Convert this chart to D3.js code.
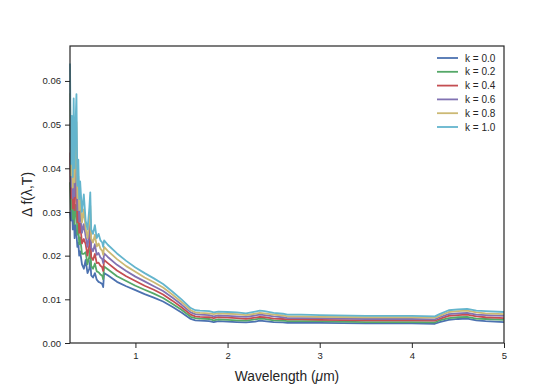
<!DOCTYPE html>
<html>
<head>
<meta charset="utf-8">
<script src="https://cdn.jsdelivr.net/npm/d3@7/dist/d3.min.js"></script>
<style>
  body { margin: 0; background: #fff; }
  text { font-family: "Liberation Sans", Arial, sans-serif; fill: #262626; }
</style>
</head>
<body>
<svg id="chart" width="560" height="385"></svg>
<script>
// wavelength grid (um)
const wavelength = [0.29, 0.30, 0.31, 0.32, 0.33, 0.34, 0.35, 0.36, 0.37, 0.38, 0.39, 0.40,
  0.42, 0.44, 0.46, 0.48, 0.50, 0.51, 0.52, 0.54, 0.56, 0.58, 0.60, 0.62, 0.64, 0.65, 0.66,
  0.70, 0.80, 0.90, 1.0, 1.1, 1.2, 1.3, 1.4, 1.5, 1.6, 1.65, 1.7, 1.8, 1.85, 1.9, 2.0, 2.1,
  2.2, 2.3, 2.35, 2.4, 2.5, 2.6, 2.65, 2.8, 3.0, 3.5, 4.0, 4.25, 4.3, 4.4, 4.5, 4.6, 4.7, 4.8, 5.0];

const k00 = [0.030, 0.028, 0.033, 0.026, 0.031, 0.024, 0.027, 0.025, 0.022, 0.023, 0.020, 0.021,
  0.018, 0.017, 0.019, 0.016, 0.017, 0.019, 0.0155, 0.015, 0.016, 0.0145, 0.014, 0.0138, 0.0135, 0.0128, 0.016,
  0.0155, 0.014, 0.013, 0.0121, 0.0112, 0.0104, 0.0095, 0.0083, 0.0070, 0.0055, 0.0052, 0.0051, 0.0050, 0.0048, 0.0050, 0.0049, 0.0048,
  0.0047, 0.0049, 0.0051, 0.0050, 0.0048, 0.0047, 0.0046, 0.0046, 0.0046, 0.0045, 0.0045, 0.0044, 0.0048, 0.0053, 0.0055, 0.0056, 0.0052, 0.0050, 0.0048];
const k02 = [0.0368, 0.0306, 0.0368, 0.0284, 0.036, 0.0272, 0.0316, 0.0314, 0.0248, 0.0268, 0.0226, 0.0242,
  0.0204, 0.0204, 0.0208, 0.018, 0.0198, 0.0221, 0.0176, 0.017, 0.0182, 0.0164, 0.0162, 0.0157, 0.0154, 0.0146, 0.0175,
  0.0169, 0.0153, 0.0142, 0.0131, 0.0122, 0.0113, 0.0103, 0.0090, 0.0076, 0.0060, 0.0057, 0.0056, 0.0055, 0.0052, 0.0054, 0.0053, 0.0052,
  0.0051, 0.0054, 0.0056, 0.0055, 0.0052, 0.0051, 0.0050, 0.0050, 0.0050, 0.0048, 0.0048, 0.0047, 0.0052, 0.0057, 0.0059, 0.0060, 0.0056, 0.0055, 0.0053];
const k04 = [0.0436, 0.0332, 0.0406, 0.0308, 0.041, 0.0304, 0.0362, 0.0378, 0.0276, 0.0306, 0.0252, 0.0274,
  0.0228, 0.0238, 0.0226, 0.020, 0.0226, 0.0252, 0.0197, 0.019, 0.0204, 0.0183, 0.0184, 0.0177, 0.0173, 0.0165, 0.019,
  0.0183, 0.0166, 0.0153, 0.0142, 0.0131, 0.0122, 0.0111, 0.0097, 0.0082, 0.0065, 0.0061, 0.0060, 0.0059, 0.0057, 0.0059, 0.0058, 0.0057,
  0.0055, 0.0058, 0.0060, 0.0059, 0.0056, 0.0055, 0.0054, 0.0054, 0.0053, 0.0052, 0.0052, 0.0051, 0.0055, 0.0062, 0.0064, 0.0065, 0.0061, 0.0059, 0.0057];
const k06 = [0.0504, 0.0358, 0.0444, 0.0332, 0.046, 0.0336, 0.0408, 0.0442, 0.0304, 0.0344, 0.0278, 0.0306,
  0.0252, 0.0272, 0.0244, 0.022, 0.0254, 0.0283, 0.0218, 0.021, 0.0226, 0.0202, 0.0206, 0.0196, 0.0192, 0.0183, 0.0205,
  0.0197, 0.0179, 0.0165, 0.0152, 0.0141, 0.0130, 0.0119, 0.0104, 0.0088, 0.0070, 0.0066, 0.0065, 0.0064, 0.0061, 0.0063, 0.0062, 0.0061,
  0.0060, 0.0063, 0.0065, 0.0064, 0.0061, 0.0059, 0.0057, 0.0057, 0.0057, 0.0055, 0.0055, 0.0054, 0.0059, 0.0066, 0.0068, 0.0069, 0.0065, 0.0064, 0.0062];
const k08 = [0.0572, 0.0384, 0.0482, 0.0356, 0.051, 0.0368, 0.0454, 0.0506, 0.0332, 0.0382, 0.0304, 0.0338,
  0.0276, 0.0306, 0.0262, 0.024, 0.0282, 0.0314, 0.0239, 0.023, 0.0248, 0.0221, 0.0228, 0.0216, 0.0211, 0.0202, 0.022,
  0.0211, 0.0192, 0.0176, 0.0163, 0.0150, 0.0139, 0.0127, 0.0111, 0.0094, 0.0075, 0.0070, 0.0069, 0.0068, 0.0066, 0.0068, 0.0067, 0.0066,
  0.0064, 0.0067, 0.0069, 0.0068, 0.0065, 0.0063, 0.0061, 0.0061, 0.0060, 0.0059, 0.0059, 0.0058, 0.0062, 0.0071, 0.0073, 0.0074, 0.0070, 0.0068, 0.0066];
const k10 = [0.064, 0.041, 0.052, 0.038, 0.056, 0.040, 0.050, 0.057, 0.036, 0.042, 0.033, 0.037,
  0.030, 0.034, 0.028, 0.026, 0.031, 0.0345, 0.026, 0.025, 0.027, 0.024, 0.025, 0.0235, 0.023, 0.022, 0.0235,
  0.0225, 0.0205, 0.0188, 0.0173, 0.0160, 0.0148, 0.0135, 0.0118, 0.0100, 0.0080, 0.0075, 0.0074, 0.0073, 0.0070, 0.0072, 0.0071, 0.0070,
  0.0068, 0.0072, 0.0074, 0.0073, 0.0069, 0.0067, 0.0065, 0.0065, 0.0064, 0.0062, 0.0062, 0.0061, 0.0066, 0.0075, 0.0077, 0.0078, 0.0074, 0.0073, 0.0071];

const seriesNames = ["k = 0.0", "k = 0.2", "k = 0.4", "k = 0.6", "k = 0.8", "k = 1.0"];
const seriesValues = [k00, k02, k04, k06, k08, k10];
const colors = ["#4C72B0", "#55A868", "#C44E52", "#8172B2", "#CCB974", "#64B5CD"];
const xTicks = [1, 2, 3, 4, 5];
const yTicks = [0, 0.01, 0.02, 0.03, 0.04, 0.05, 0.06];

const svg = d3.select("#chart");
const mLeft = 70, mRight = 504, mTop = 46, mBottom = 343;

const x = d3.scaleLinear().domain([0.29, 5]).range([mLeft, mRight]);
const y = d3.scaleLinear().domain([0, 0.068]).range([mBottom, mTop]);

const line = d3.line()
  .x(d => x(d[0]))
  .y(d => y(d[1]));

// curves
seriesValues.forEach((vals, i) => {
  svg.append("path")
    .attr("d", line(wavelength.map((w, j) => [w, vals[j]])))
    .attr("fill", "none")
    .attr("stroke", colors[i])
    .attr("stroke-width", 1.8)
    .attr("stroke-linejoin", "round");
});

// axes
const xAxis = d3.axisBottom(x).tickValues(xTicks).tickFormat(d3.format("d")).tickSize(5).tickPadding(4);
const yAxis = d3.axisLeft(y).tickValues(yTicks).tickFormat(d3.format(".2f")).tickSize(5).tickPadding(4);

const gx = svg.append("g").attr("transform", `translate(0,${mBottom})`).call(xAxis);
const gy = svg.append("g").attr("transform", `translate(${mLeft},0)`).call(yAxis);
[gx, gy].forEach(g => {
  g.select(".domain").remove();
  g.selectAll(".tick line").attr("stroke", "#262626").attr("stroke-width", 1);
  g.selectAll(".tick text").attr("font-size", 9.5).attr("fill", "#262626")
    .style("font-family", "'Liberation Sans', Arial, sans-serif");
});

// frame
svg.append("rect")
  .attr("x", mLeft).attr("y", mTop)
  .attr("width", mRight - mLeft).attr("height", mBottom - mTop)
  .attr("fill", "none").attr("stroke", "#262626").attr("stroke-width", 1.2);

// labels
const xl = svg.append("text")
  .attr("x", (mLeft + mRight) / 2).attr("y", 381)
  .attr("text-anchor", "middle").attr("font-size", 13.8);
xl.append("tspan").text("Wavelength (");
xl.append("tspan").attr("font-style", "italic").text("\u03bc");
xl.append("tspan").text("m)");

svg.append("text")
  .attr("transform", `translate(32,${(mTop + mBottom) / 2}) rotate(-90)`)
  .attr("text-anchor", "middle").attr("font-size", 14)
  .text("\u0394 f(\u03bb,T)");

// legend
const legend = svg.append("g").attr("transform", "translate(437,58)");
seriesNames.forEach((name, i) => {
  const row = legend.append("g").attr("transform", `translate(0,${i * 13.8})`);
  row.append("line").attr("x1", 0).attr("x2", 21).attr("y1", 0).attr("y2", 0)
    .attr("stroke", colors[i]).attr("stroke-width", 1.8);
  row.append("text").attr("x", 28).attr("y", 3.6).attr("font-size", 10).text(name);
});
</script>
</body>
</html>
